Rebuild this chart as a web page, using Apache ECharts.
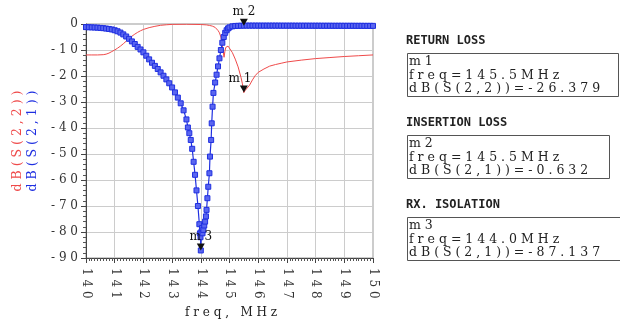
<!DOCTYPE html>
<html>
<head>
<meta charset="utf-8">
<script src="https://cdn.jsdelivr.net/npm/echarts@6/dist/echarts.min.js"></script>
<style>
  html, body { margin: 0; padding: 0; background: #fff; }
  #chart { width: 620px; height: 326px; }
</style>
</head>
<body>
<div id="chart"></div>
<script>
// dB(S(2,1)) - transmission [freq MHz, dB]
var s21 = [
  [140.0, -1.2], [140.1, -1.25], [140.2, -1.3], [140.3, -1.35], [140.4, -1.4],
  [140.5, -1.5], [140.6, -1.6], [140.7, -1.75], [140.8, -1.9], [140.9, -2.1],
  [141.0, -2.4], [141.1, -2.8], [141.2, -3.3], [141.3, -4.0], [141.4, -4.8],
  [141.5, -5.7], [141.6, -6.7], [141.7, -7.7], [141.8, -8.8], [141.9, -9.8],
  [142.0, -10.9], [142.1, -12.2], [142.2, -13.6], [142.3, -14.9], [142.4, -16.1],
  [142.5, -17.3], [142.6, -18.6], [142.7, -19.9], [142.8, -21.3], [142.9, -22.8],
  [143.0, -24.4], [143.1, -26.3], [143.2, -28.3], [143.3, -30.5], [143.4, -33.2],
  [143.5, -36.7], [143.55, -39.8], [143.6, -42.0], [143.65, -44.6], [143.7, -48.0],
  [143.75, -53.0], [143.8, -58.0], [143.85, -64.0], [143.9, -70.0], [143.95, -77.0],
  [143.97, -80.5], [143.99, -82.0], [144.0, -87.1], [144.02, -80.0], [144.04, -78.5],
  [144.06, -80.5], [144.09, -79.2], [144.12, -77.5], [144.15, -76.0], [144.18, -74.0],
  [144.2, -71.5], [144.23, -67.0], [144.26, -62.6], [144.3, -57.4], [144.32, -51.0],
  [144.36, -44.6], [144.38, -38.2], [144.41, -31.8], [144.44, -26.5], [144.5, -22.5],
  [144.55, -19.5], [144.6, -16.3], [144.65, -13.2], [144.7, -10.0], [144.75, -7.2],
  [144.8, -5.0], [144.85, -3.4], [144.9, -2.4], [144.95, -1.7], [145.0, -1.3],
  [145.1, -0.9], [145.2, -0.75], [145.3, -0.7], [145.4, -0.66], [145.5, -0.63],
  [145.6, -0.62], [145.7, -0.62], [145.8, -0.62], [145.9, -0.62], [146.0, -0.62],
  [146.1, -0.63], [146.2, -0.63], [146.3, -0.63], [146.4, -0.63], [146.5, -0.63],
  [146.6, -0.63], [146.7, -0.63], [146.8, -0.64], [146.9, -0.64], [147.0, -0.64],
  [147.1, -0.64], [147.2, -0.64], [147.3, -0.65], [147.4, -0.65], [147.5, -0.65],
  [147.6, -0.65], [147.7, -0.65], [147.8, -0.66], [147.9, -0.66], [148.0, -0.66],
  [148.1, -0.66], [148.2, -0.67], [148.3, -0.67], [148.4, -0.67], [148.5, -0.67],
  [148.6, -0.68], [148.7, -0.68], [148.8, -0.68], [148.9, -0.68], [149.0, -0.69],
  [149.1, -0.69], [149.2, -0.69], [149.3, -0.69], [149.4, -0.7], [149.5, -0.7],
  [149.6, -0.7], [149.7, -0.71], [149.8, -0.71], [149.9, -0.71], [150.0, -0.72]
];

// dB(S(2,2)) - return loss
var s22 = [
  [140.0, -11.9], [140.2, -11.9], [140.4, -11.9], [140.6, -11.8], [140.7, -11.6],
  [140.8, -11.2], [140.9, -10.6], [141.0, -10.0], [141.1, -9.3], [141.2, -8.5],
  [141.3, -7.6], [141.4, -6.6], [141.5, -5.6], [141.6, -4.7], [141.7, -3.9],
  [141.8, -3.2], [141.9, -2.6], [142.0, -2.1], [142.2, -1.4], [142.4, -0.9],
  [142.6, -0.5], [142.8, -0.3], [143.0, -0.15], [143.5, -0.1], [144.0, -0.2],
  [144.2, -0.35], [144.3, -0.55], [144.4, -0.8], [144.5, -1.3], [144.55, -1.8],
  [144.6, -2.5], [144.65, -3.4], [144.7, -5.0], [144.74, -7.5], [144.78, -10.5],
  [144.81, -12.8], [144.84, -10.5], [144.87, -9.0], [144.9, -8.3], [144.95, -8.5],
  [145.0, -9.2], [145.1, -11.0], [145.2, -13.5], [145.3, -16.5], [145.4, -20.5],
  [145.45, -23.0], [145.5, -26.4], [145.55, -25.5], [145.6, -24.8], [145.7, -23.5],
  [145.8, -21.5], [145.9, -19.8], [146.0, -18.6], [146.2, -17.3], [146.4, -16.2],
  [146.6, -15.6], [146.8, -15.1], [147.0, -14.6], [147.5, -13.9], [148.0, -13.3],
  [148.5, -12.9], [149.0, -12.5], [149.5, -12.2], [150.0, -11.9]
];

var markerNames = ['m1', 'm2', 'm3'];
var markerFreq = [145.5, 145.5, 144.0];
var markerDb = [-26.379, -0.632, -87.137];
var markerTrace = ['S(2,2)', 'S(2,1)', 'S(2,1)'];
var boxTitles = ['RETURN LOSS', 'INSERTION LOSS', 'RX. ISOLATION'];

var serif = '"DejaVu Serif", "Liberation Serif", serif';
var red = '#ef4a4a', blue = '#1f2fe0';

function spaced(s) {
    return String(s).split('').join(' ');
}

function markPt(i, offset) {
    return {
        name: markerNames[i],
        coord: [markerFreq[i], markerDb[i]],
        label: { offset: offset || [0, 0] }
    };
}

var markStyle = {
    symbol: 'triangle',
    symbolRotate: 180,
    symbolSize: [8, 7],
    symbolOffset: [0, -3.5],
    itemStyle: { color: '#111' },
    label: {
        show: true,
        position: 'top',
        distance: 1,
        color: '#111',
        fontFamily: serif,
        fontSize: 12,
        formatter: function (p) { return spaced(p.name); }
    }
};

// marker readout boxes on the right
var graphics = [];
var boxTop = [53, 135, 217], boxWidth = [211, 202, 214];
for (var i = 0; i < 3; i++) {
    graphics.push({
        type: 'text', left: 406, top: boxTop[i] - 18,
        style: {
            text: boxTitles[i], fill: '#222',
            font: 'bold 12px "DejaVu Sans Mono", monospace'
        }
    });
    graphics.push({
        type: 'rect', shape: { x: 407.5, y: boxTop[i] + 0.5, width: boxWidth[i], height: 43 },
        style: { fill: 'none', stroke: '#555', lineWidth: 1 }
    });
    var lines = [
        markerNames[i],
        'freq=' + markerFreq[i].toFixed(1) + 'MHz',
        'dB(' + markerTrace[i] + ')=' + markerDb[i].toFixed(3)
    ];
    for (var k = 0; k < lines.length; k++) {
        graphics.push({
            type: 'text', x: 409, y: boxTop[i] + 9 + k * 13.5,
            style: {
                text: spaced(lines[k]), fill: '#222',
                font: '12.5px ' + serif, verticalAlign: 'middle'
            }
        });
    }
}
// axis titles
graphics.push({
    type: 'text', x: 18, y: 141, rotation: Math.PI / 2,
    style: { text: spaced('dB(S(2,2))'), fill: red, font: '12.5px ' + serif, align: 'center', verticalAlign: 'middle' }
});
graphics.push({
    type: 'text', x: 33, y: 141, rotation: Math.PI / 2,
    style: { text: spaced('dB(S(2,1))'), fill: blue, font: '12.5px ' + serif, align: 'center', verticalAlign: 'middle' }
});
graphics.push({
    type: 'text', x: 231, y: 313,
    style: { text: 'f r e q ,   M H z', fill: '#222', font: '12px ' + serif, align: 'center', verticalAlign: 'middle' }
});

var option = {
    animation: false,
    backgroundColor: '#fff',
    grid: {
        left: 86, top: 24, width: 287, height: 234,
        show: true, borderColor: '#999', borderWidth: 1
    },
    xAxis: {
        type: 'value', min: 140, max: 150, interval: 1,
        axisLine: { show: true, onZero: false, lineStyle: { color: '#444' } },
        axisTick: { show: true, length: 5, lineStyle: { color: '#444' } },
        minorTick: { show: true, splitNumber: 10, length: 3, lineStyle: { color: '#555' } },
        splitLine: { show: true, lineStyle: { color: '#cccccc' } },
        axisLabel: {
            rotate: -90, margin: 10, color: '#333', fontFamily: serif, fontSize: 12,
            formatter: function (v) { return spaced(v); }
        }
    },
    yAxis: {
        type: 'value', min: -90, max: 0, interval: 10,
        axisLine: { show: true, lineStyle: { color: '#444' } },
        axisTick: { show: true, length: 5, lineStyle: { color: '#444' } },
        minorTick: { show: true, splitNumber: 5, length: 3, lineStyle: { color: '#555' } },
        splitLine: { show: true, lineStyle: { color: '#cccccc' } },
        axisLabel: {
            margin: 8, color: '#333', fontFamily: serif, fontSize: 12,
            formatter: function (v) { return v === 0 ? '0' : spaced('-' + (-v)); }
        }
    },
    series: [{
        name: 'dB(S(2,2))',
        type: 'line',
        data: s22,
        symbol: 'none',
        lineStyle: { color: red, width: 1 },
        itemStyle: { color: red },
        markPoint: echarts.util.merge({ data: [markPt(0, [-4, 0])] }, markStyle)
    }, {
        name: 'dB(S(2,1))',
        type: 'line',
        data: s21,
        symbol: 'rect',
        symbolSize: 5,
        showAllSymbol: true,
        lineStyle: { color: blue, width: 1.2 },
        itemStyle: { color: '#5a66f0', borderColor: blue, borderWidth: 1 },
        z: 3,
        markPoint: echarts.util.merge({ data: [markPt(1), markPt(2)] }, markStyle)
    }],
    graphic: graphics
};

echarts.init(document.getElementById('chart')).setOption(option);
</script>
</body>
</html>
